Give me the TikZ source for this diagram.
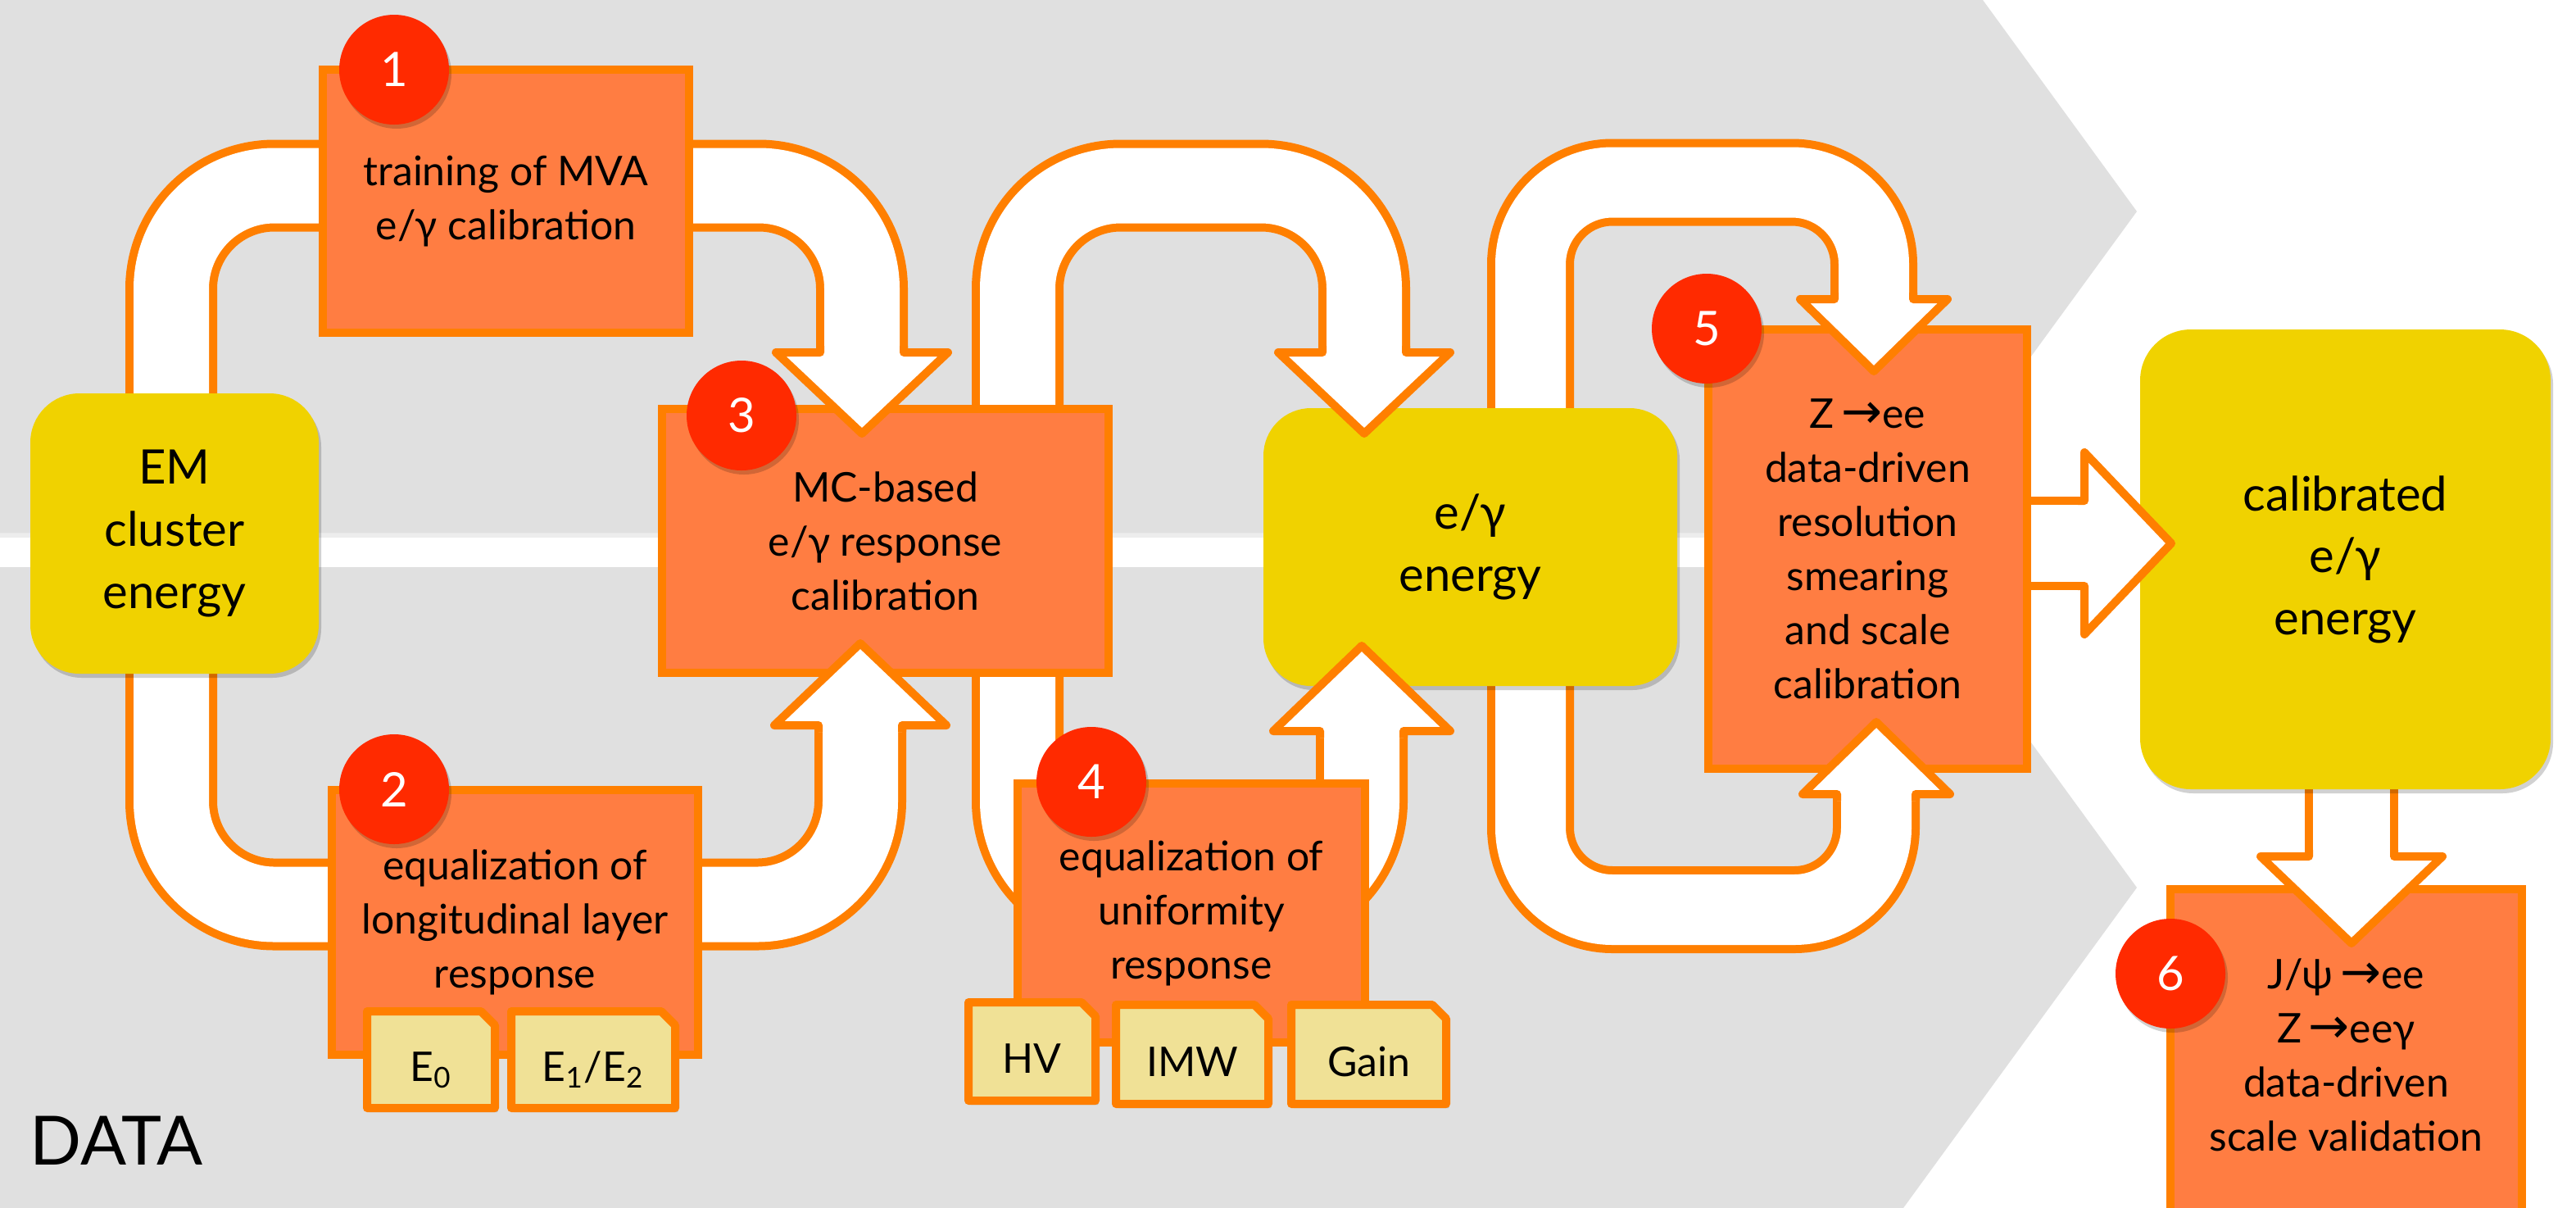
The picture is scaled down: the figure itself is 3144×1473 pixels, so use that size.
\documentclass[tikz,border=0pt]{standalone}
\usepackage{fontspec}
\setmainfont{Lato}
\newfontfamily\djv{DejaVu Sans}
\usetikzlibrary{shadows}
\definecolor{bggrey}{HTML}{E0E0E0}
\definecolor{borange}{HTML}{FF7F00}
\definecolor{boxorange}{HTML}{FF7D42}
\definecolor{byellow}{HTML}{F0D200}
\definecolor{tabyellow}{HTML}{F0E196}
\definecolor{nred}{HTML}{FF2A00}
\pgfdeclarelayer{bg}
\pgfdeclarelayer{back}
\pgfdeclarelayer{front}
\pgfdeclarelayer{top}
\pgfsetlayers{bg,back,main,front,top}
\newcommand\myBoxFont{\fontsize{14.2pt}{18.8pt}\selectfont}
\newcommand\myYelFont{\fontsize{16.5pt}{21.5pt}\selectfont}
\newcommand\myCircFont{\fontsize{16.5pt}{18pt}\selectfont}
\newcommand\myDataFont{\fontsize{23.6pt}{26pt}\selectfont}
\newcommand\myArr{\,{\djv\fontsize{17pt}{18pt}\selectfont →}}
\newcommand\hdn[4]{\filldraw[headst] ([shift={(-#4,-#2-8)}]#1) -- ([shift={(-#4,-#2)}]#1) -- ([shift={(-#3,-#2)}]#1) -- (#1) -- ([shift={(#3,-#2)}]#1) -- ([shift={(#4,-#2)}]#1) -- ([shift={(#4,-#2-8)}]#1);}
\newcommand\hup[4]{\filldraw[headst] ([shift={(-#4,#2+8)}]#1) -- ([shift={(-#4,#2)}]#1) -- ([shift={(-#3,#2)}]#1) -- (#1) -- ([shift={(#3,#2)}]#1) -- ([shift={(#4,#2)}]#1) -- ([shift={(#4,#2+8)}]#1);}
\newcommand\hrt[4]{\filldraw[headst] ([shift={(-#2-8,-#4)}]#1) -- ([shift={(-#2,-#4)}]#1) -- ([shift={(-#2,-#3)}]#1) -- (#1) -- ([shift={(-#2,#3)}]#1) -- ([shift={(-#2,#4)}]#1) -- ([shift={(-#2-8,#4)}]#1);}
\begin{document}
\begin{tikzpicture}[x=0.1mm,y=-0.1mm,
  softshadow/.style={drop shadow={shadow xshift=0.3mm,shadow yshift=-0.5mm,opacity=0.18,fill=black}},
  obox/.style={draw=borange,fill=boxorange,line width=1mm,align=center,font=\myBoxFont,inner sep=0pt,outer sep=0pt,softshadow},
  ybox/.style={fill=byellow,align=center,font=\myYelFont,inner sep=0pt,outer sep=0pt,softshadow},
  numc/.style={circle,fill=nred,minimum size=13.4mm,inner sep=0pt,outer sep=0pt,text=white,font=\myCircFont,softshadow},
  tabtxt/.style={inner sep=0pt,outer sep=0pt,font=\myBoxFont,text height=5.3mm,text depth=0pt},
  tabst/.style={fill=tabyellow,draw=borange,line width=1mm,line join=round,softshadow},
  headst/.style={fill=white,draw=borange,line width=1mm,line join=round},
  shaft/.style={line width=1mm,draw=borange,double=white,double distance=9.2mm,rounded corners=12.6mm},
  shaftb/.style={shaft,double distance=8.6mm,rounded corners=10mm},
  shaftc/.style={shaft,double distance=9.4mm}]
\useasboundingbox (0,0) rectangle (3144,1473);

% background bands
\begin{pgfonlayer}{bg}
\fill[bggrey] (0,0) -- (2420,0) -- (2608,258) -- (2322,650) -- (0,650) -- cycle;
\fill[bggrey] (0,692) -- (2323,692) -- (2608,1083) -- (2323,1474) -- (0,1474) -- cycle;
\fill[black,opacity=0.07] (0,650) -- (2322,650) -- (2319,656) -- (0,656) -- cycle;
\end{pgfonlayer}

% main nodes
\node[ybox,minimum width=35.2mm,minimum height=34.2mm,rounded corners=6mm] (em) at (213,651) {EM\\cluster\\energy};
\node[obox,minimum width=44.7mm,minimum height=32.1mm] (box1) at (617.5,245.5) {training of MVA\\e/γ calibration};
\node[obox,minimum width=44.7mm,minimum height=32.3mm] (box2) at (628.5,1125.5) {equalization of\\longitudinal layer\\response};
\node[obox,minimum width=54.5mm,minimum height=32.2mm] (box3) at (1080.5,660) {MC-based\\e/γ response\\calibration};
\node[obox,minimum width=42.4mm,minimum height=31.6mm] (box4) at (1454,1114) {equalization of\\uniformity\\response};
\node[ybox,minimum width=50.5mm,minimum height=33.9mm,rounded corners=5.8mm] (eg) at (1794.5,667.5) {e/γ\\energy};
\node[obox,minimum width=38.9mm,minimum height=53.6mm] (box5) at (2279.5,670) {Z\myArr ee\\data-driven\\resolution\\smearing\\and scale\\calibration};
\node[ybox,minimum width=50.1mm,minimum height=56.1mm,rounded corners=6.2mm] (cal) at (2862.5,682.5) {calibrated\\e/γ\\energy};
\node[obox,minimum width=42.9mm,minimum height=40.4mm] (box6) at (2863.5,1287) {J/ψ\myArr ee\\Z\myArr eeγ\\data-driven\\scale validation};

% helper coordinates
\coordinate (rowA) at (0,226.5);
\coordinate (rowB) at (0,1103.5);
\coordinate (rowC) at (0,222.5);
\coordinate (rowD) at (0,1110);
\coordinate (t1) at ([shift={(-28.5,30)}]box3.north);
\coordinate (t2) at ([shift={(-30.5,-36)}]box3.south);
\coordinate (t3) at ([shift={(-129.5,31)}]eg.north);
\coordinate (t4) at ([shift={(-132.5,-49)}]eg.south);
\coordinate (t5) at ([shift={(7.5,51)}]box5.north);
\coordinate (t6) at ([shift={(10.5,-57)}]box5.south);
\coordinate (t7) at ([shift={(38,-19.5)}]cal.west);
\coordinate (t8) at ([shift={(6.5,66)}]box6.north);

% shafts behind the boxes
\begin{pgfonlayer}{back}
\draw[shaft] ([shift={(-4,20)}]em.north) |- (rowA -| t1) -- ([shift={(0,-97)}]t1);
\draw[shaft] ([shift={(-4,-22)}]em.south) |- (rowB -| t2) -- ([shift={(0,98)}]t2);
\draw[shaft] ([shift={(161.5,21)}]box3.north) |- (rowA -| t3) -- ([shift={(0,-97)}]t3);
\draw[shaft] ([shift={(161.5,-21)}]box3.south) |- (rowB -| t4) -- ([shift={(0,102)}]t4);
\draw[shaftb] ([shift={(73.5,22)}]eg.north) |- (rowC -| t5) -- ([shift={(0,-86)}]t5);
\draw[shaftb] ([shift={(73.5,-22)}]eg.south) |- (rowD -| t6) -- ([shift={(0,86)}]t6);
\draw[shaftc] ([shift={(-4,-7)}]box5.east) -- ([shift={(-104,0)}]t7);
\draw[shaftc] ([shift={(7.5,-13)}]cal.south) -- ([shift={(0,-104)}]t8);
\end{pgfonlayer}

% tab texts, circles, label on top
\begin{pgfonlayer}{top}
\node[tabtxt,minimum width=15.6mm,minimum height=11.8mm] (e0) at (526,1293) {E\textsubscript{0}};
\node[tabtxt,minimum width=20mm,minimum height=11.8mm] (e12) at (724,1293) {E\textsubscript{1}/E\textsubscript{2}};
\node[tabtxt,minimum width=15.5mm,minimum height=12mm] (hv) at (1259.5,1283) {HV};
\node[tabtxt,minimum width=18.6mm,minimum height=12.1mm] (imw) at (1455,1286.5) {IMW};
\node[tabtxt,minimum width=18.9mm,minimum height=12.1mm] (gain) at (1670.5,1286.5) {Gain};
\node[numc] (n1) at (481,85) {1};
\node[numc] (n2) at (481,963) {2};
\node[numc] (n3) at (905,507) {3};
\node[numc] (n4) at (1332,954) {4};
\node[numc] (n5) at (2083,401) {5};
\node[numc] (n6) at (2649,1188) {6};
\node[anchor=base west,font=\myDataFont,inner sep=0pt] (data) at (36,1421) {DATA};
\end{pgfonlayer}

% arrow heads and tab shapes
\begin{pgfonlayer}{front}
\hdn{t1}{99}{105}{51}
\hup{t2}{100}{105}{51}
\hdn{t3}{99}{105}{51}
\hup{t4}{104}{108}{51}
\hdn{t5}{88}{90}{48}
\hup{t6}{88}{90}{48}
\hrt{t7}{106}{111}{52}
\hdn{t8}{106}{111}{52}
\foreach \t in {e0,e12,hv,imw,gain}{
  \filldraw[tabst] (\t.south west) -- (\t.north west) -- ([xshift=-1.7mm]\t.north east) -- ([yshift=-1.7mm]\t.north east) -- (\t.south east) -- cycle;
}
\end{pgfonlayer}
\end{tikzpicture}
\end{document}
